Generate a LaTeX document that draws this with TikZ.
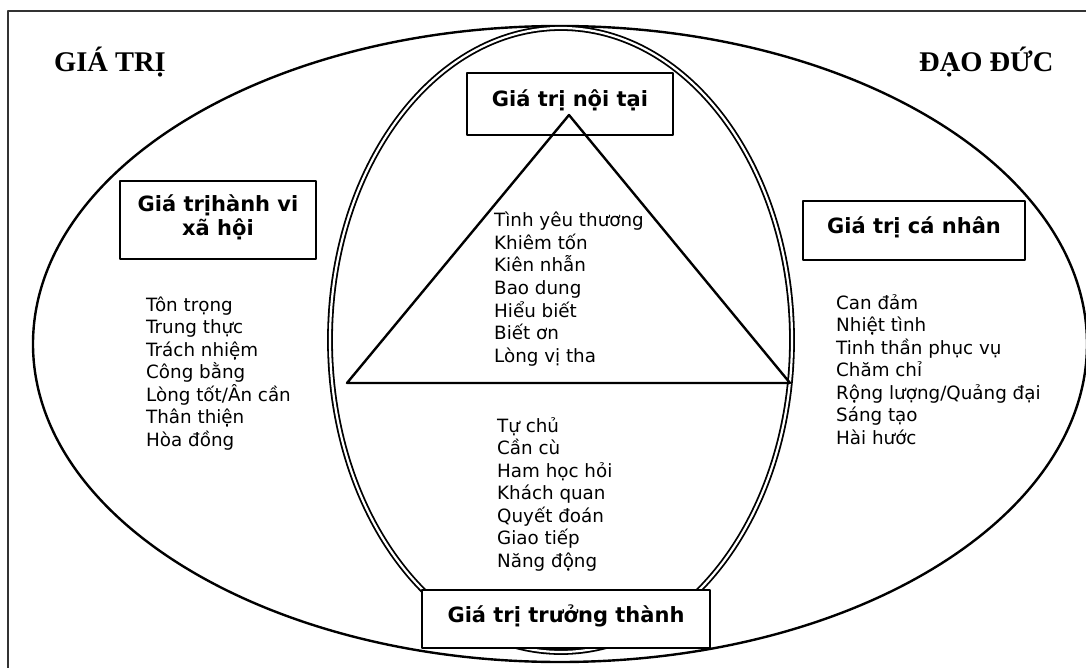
\documentclass[tikz,border=0pt]{standalone}
\usepackage{fontspec}
\setmainfont{DejaVu Sans}
\newfontfamily\titlefont{Liberation Serif}
\newcommand{\vlist}[1]{\vtop{\baselineskip=22.5pt\lineskiplimit=-100pt\lineskip=0pt\halign{##\hfil\cr #1}}}
\newcommand{\cstack}[2]{\vtop{\baselineskip=24pt\lineskiplimit=-100pt\lineskip=0pt\halign{\hfil##\hfil\cr #1\cr #2\cr}}}
\begin{document}
\begin{tikzpicture}[x=1pt,y=-1pt,line join=round,
  frame/.style={draw=black!80,line width=1.4pt},
  line/.style={draw=black,line width=2.4pt},
  dbl/.style={draw=black,line width=1.8pt,double=white,double distance=2.2pt},
  box/.style={draw=black,line width=2.4pt,fill=white,inner sep=0pt,
    font=\fontsize{21}{24}\selectfont\bfseries,text height=14pt,text depth=8pt},
  lst/.style={anchor=base west,inner sep=0pt,font=\fontsize{18.3}{22.5}\selectfont},
  ttl/.style={anchor=base west,inner sep=0pt,font=\titlefont\fontsize{28.5}{30}\selectfont\bfseries}]
\useasboundingbox (0,0) rectangle (1086,668);
\fill[white] (0,0) rectangle (1086,668);
% frame
\coordinate (fb) at (8,668);
\coordinate (fc) at (8,11);
\coordinate (fr) at (1086,11);
\draw[frame] (fb) -- (fc) -- (fr);
% ellipses
\draw[line] (560,344) ellipse [x radius=527pt, y radius=318pt];
\draw[dbl] (561,340) ellipse [x radius=231pt, y radius=312pt];
% boxes
\node[box,minimum width=206pt,minimum height=62pt] (intr) at (570,104) {Giá trị nội tại};
\node[box,minimum width=222pt,minimum height=59pt] (pers) at (914,230.5) {Giá trị cá nhân};
\node[box,minimum width=288pt,minimum height=58pt] (mat) at (566,619) {Giá trị trưởng thành};
\node[box,minimum width=196pt,minimum height=78pt,text height=8pt,text depth=24pt] (soc) at (218,220) {\cstack{Giá trịhành vi}{xã hội}};
% triangle
\coordinate (ta) at (569,115);
\coordinate (tl) at (347,383);
\coordinate (tr) at (790,383);
\draw[line] (ta) -- (tl) -- (tr) -- cycle;
% titles
\node[ttl] (t1) at (54,72) {GIÁ TRỊ};
\node[ttl] (t2) at (919,72) {ĐẠO ĐỨC};
% lists
\node[lst] (lsoc) at (146,311) {\vlist{Tôn trọng\cr Trung thực\cr Trách nhiệm\cr Công bằng\cr Lòng tốt/Ân cần\cr Thân thiện\cr Hòa đồng\cr}};
\node[lst] (lint) at (494,227) {\vlist{Tình yêu thương\cr Khiêm tốn\cr Kiên nhẫn\cr Bao dung\cr Hiểu biết\cr Biết ơn\cr Lòng vị tha\cr}};
\node[lst] (lmat) at (497,432) {\vlist{Tự chủ\cr Cần cù\cr Ham học hỏi\cr Khách quan\cr Quyết đoán\cr Giao tiếp\cr Năng động\cr}};
\node[lst] (lper) at (836,309) {\vlist{Can đảm\cr Nhiệt tình\cr Tinh thần phục vụ\cr Chăm chỉ\cr Rộng lượng/Quảng đại\cr Sáng tạo\cr Hài hước\cr}};
\end{tikzpicture}
\end{document}
